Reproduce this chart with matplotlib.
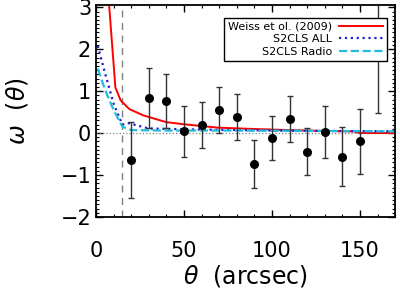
import matplotlib
matplotlib.use('Agg')
import matplotlib.pyplot as plt
from matplotlib.ticker import MultipleLocator

# measured correlation points
theta = [20, 30, 40, 50, 60, 70, 80, 90, 100, 110, 120, 130, 140, 150, 160]
w = [-0.65, 0.83, 0.76, 0.04, 0.19, 0.56, 0.39, -0.73, -0.12, 0.33, -0.44, 0.02, -0.56, -0.20, 2.00]
w_err = [0.91, 0.72, 0.64, 0.60, 0.55, 0.55, 0.55, 0.57, 0.53, 0.55, 0.57, 0.62, 0.70, 0.78, 1.51]

# model curves
theta_weiss = [7.0, 11, 14, 19, 27, 40, 50, 69, 88, 110, 130, 146, 150, 170]
w_weiss = [3.3, 1.09, 0.78, 0.57, 0.42, 0.26, 0.21, 0.13, 0.10, 0.07, 0.05, 0.04, 0.0, 0.0]

theta_all = [1, 5, 10, 15, 18, 30, 50, 100, 170]
w_all = [2.08, 1.45, 0.70, 0.20, 0.24, 0.11, 0.09, 0.06, 0.04]

theta_radio = [1, 5, 10, 15, 20, 40, 80, 130, 170]
w_radio = [1.54, 1.05, 0.55, 0.15, 0.07, 0.06, 0.06, 0.05, 0.04]

theta_min = 15

fig = plt.figure(figsize=(4, 3), dpi=100)
ax = fig.add_axes([0.24, 0.277, 0.748, 0.707])

ax.axhline(0, color='gray', ls=':', lw=0.9)
ax.axvline(theta_min, color='gray', ls=(0, (5, 4)), lw=1)

ax.plot(theta_weiss, w_weiss, color='red', lw=1.4, label='Weiss et ol. (2009)')
ax.plot(theta_all, w_all, color='#2020cc', ls=':', lw=1.6, label='S2CLS ALL')
ax.plot(theta_radio, w_radio, color='#22bbdd', ls='--', lw=1.6, label='S2CLS Radio')

ax.errorbar(theta, w, yerr=w_err, fmt='o', color='black', ecolor='#333333',
            ms=5.5, elinewidth=1, capsize=2.5, capthick=1)

ax.set_xlim(0, 170)
ax.set_ylim(-2, 3.06)
ax.xaxis.set_major_locator(MultipleLocator(50))
ax.xaxis.set_minor_locator(MultipleLocator(10))
ax.yaxis.set_major_locator(MultipleLocator(1))
ax.yaxis.set_minor_locator(MultipleLocator(0.1))
ax.tick_params(which='both', direction='in', top=True, right=True, labelsize=15)
ax.tick_params(which='major', length=5, width=1)
ax.tick_params(which='minor', length=2.5, width=0.8)
ax.tick_params(axis='x', pad=17)
for s in ax.spines.values():
    s.set_linewidth(1.3)

ax.set_xlabel(r'$\theta$  (arcsec)', fontsize=17, labelpad=2)
ax.set_ylabel(r'$\omega$  $(\theta)$', fontsize=17, labelpad=22)

leg = ax.legend(loc='upper right', fontsize=8, markerfirst=False, handlelength=4.0,
                fancybox=False, edgecolor='black', framealpha=1,
                bbox_to_anchor=(0.98, 0.95), borderaxespad=0.2, labelspacing=0.25,
                handletextpad=0.6, borderpad=0.35)
leg.get_frame().set_linewidth(1)

fig.savefig('out.png', dpi=100)
